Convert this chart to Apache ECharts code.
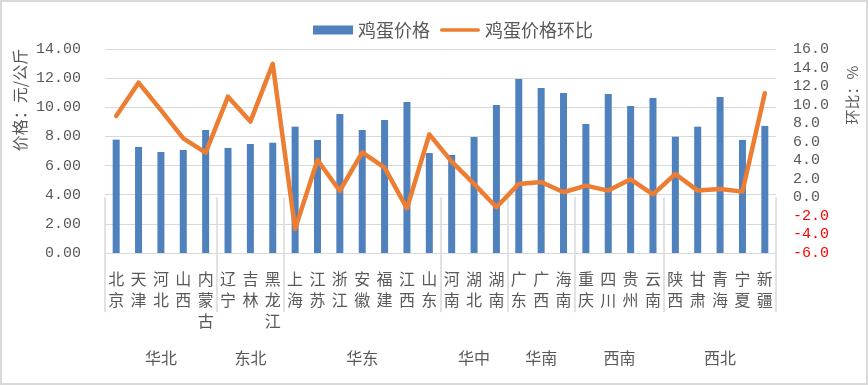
<!DOCTYPE html>
<html>
<head>
<meta charset="utf-8">
<script src="https://cdn.jsdelivr.net/npm/echarts@6/dist/echarts.min.js"></script>
<style>
html,body{margin:0;padding:0;background:#fff;}
#chart{width:868px;height:385px;}
</style>
</head>
<body>
<div id="chart"></div>
<script>
var provinces = ['北京','天津','河北','山西','内蒙古','辽宁','吉林','黑龙江','上海','江苏','浙江','安徽','福建','江西','山东','河南','湖北','湖南','广东','广西','海南','重庆','四川','贵州','云南','陕西','甘肃','青海','宁夏','新疆'];
var regionNames = ['华北','东北','华东','华中','华南','西南','西北'];
var regionSizes = [5,3,7,3,3,4,5];
var prices = [7.78,7.28,6.93,7.07,8.44,7.21,7.48,7.57,8.67,7.76,9.54,8.44,9.13,10.36,6.86,6.73,7.96,10.16,11.94,11.32,10.98,8.85,10.91,10.09,10.64,7.98,8.67,10.70,7.76,8.72];
var momChange = [8.78,12.37,9.40,6.37,4.82,10.86,8.17,14.39,-3.40,4.03,0.69,4.86,3.20,-1.18,6.80,3.85,1.45,-1.07,1.45,1.66,0.55,1.27,0.73,1.95,0.33,2.52,0.73,0.90,0.62,11.23];
var leftTicks = {min:0, max:14, step:2};
var rightTicks = {min:-6, max:16, step:2};
var seriesNames = ['鸡蛋价格','鸡蛋价格环比'];
var leftName = '价格：元/公斤';
var rightName = '环比：%';

// build group axis (half-unit positions, boundaryGap false)
var nHalf = provinces.length * 2 + 1;
var groupData = [], groupLabel = {}, groupTicks = {};
for (var i = 0; i < nHalf; i++) groupData.push('g' + i);
var s = 0;
groupTicks[0] = true;
for (var g = 0; g < regionNames.length; g++) {
  var e = s + regionSizes[g];
  groupLabel[s + e] = regionNames[g];
  groupTicks[2 * e] = true;
  s = e;
}

var txtColor = '#595959';
var numFont = 'Liberation Mono';
var cjkFont = 'Noto Sans CJK SC';
var chart = echarts.init(document.getElementById('chart'));
chart.setOption({
  animation: false,
  backgroundColor: '#fff',
  textStyle: {fontFamily: cjkFont},
  grid: {left: 105, right: 92, top: 49, bottom: 132, containLabel: false},
  legend: {
    left: 308, top: 16,
    itemWidth: 40, itemHeight: 9, itemGap: 10,
    symbolKeepAspect: true,
    textStyle: {fontSize: 18, color: txtColor, fontFamily: cjkFont},
    data: [
      {name: seriesNames[0], icon: 'rect'},
      {name: seriesNames[1], icon: 'path://M2,0H42A2,2 0 0 1 42,4H2A2,2 0 0 1 2,0Z'}
    ]
  },
  xAxis: [{
    type: 'category',
    data: provinces,
    axisLine: {lineStyle: {color: '#d9d9d9', width: 1}},
    axisTick: {show: false},
    axisLabel: {
      interval: 0, margin: 15, fontSize: 16, lineHeight: 21, color: txtColor,
      fontFamily: cjkFont, verticalAlign: 'top',
      formatter: function (v) { return v.split('').join('\n'); }
    }
  }, {
    type: 'category',
    data: groupData,
    boundaryGap: false,
    position: 'bottom',
    axisLine: {show: false},
    axisTick: {
      show: true, length: 115,
      interval: function (idx) { return !!groupTicks[idx]; },
      lineStyle: {color: '#d9d9d9', width: 1.5}
    },
    axisLabel: {
      interval: 0, margin: 95, fontSize: 16, lineHeight: 20, color: txtColor,
      fontFamily: cjkFont, verticalAlign: 'top',
      formatter: function (v, idx) { return groupLabel[idx] || ''; }
    }
  }],
  yAxis: [{
    type: 'value', position: 'left',
    min: leftTicks.min, max: leftTicks.max, interval: leftTicks.step,
    axisLine: {show: false}, axisTick: {show: false},
    splitLine: {lineStyle: {color: '#d9d9d9', width: 1}},
    axisLabel: {
      margin: 24, fontSize: 15, color: txtColor, fontFamily: numFont,
      formatter: function (v) { return v.toFixed(2); }
    }
  }, {
    type: 'value', position: 'right',
    min: rightTicks.min, max: rightTicks.max, interval: rightTicks.step,
    axisLine: {show: false}, axisTick: {show: false},
    splitLine: {show: false},
    axisLabel: {
      margin: 17, fontSize: 15, fontFamily: numFont,
      color: function (v) { return Number(v) < 0 ? '#ff0000' : txtColor; },
      formatter: function (v) { return v.toFixed(1); }
    }
  }],
  series: [{
    name: seriesNames[0], type: 'bar', xAxisIndex: 0, yAxisIndex: 0,
    data: prices, barWidth: 7,
    itemStyle: {color: '#4f81bd'}
  }, {
    name: seriesNames[1], type: 'line', xAxisIndex: 0, yAxisIndex: 1,
    data: momChange, symbol: 'none', showSymbol: false,
    lineStyle: {color: '#ed7d31', width: 4.5, cap: 'round', join: 'round'},
    itemStyle: {color: '#ed7d31'}
  }],
  graphic: [{
    type: 'rect', silent: true,
    shape: {x: 1, y: 1, width: 866, height: 383},
    style: {fill: 'none', stroke: '#d9d9d9', lineWidth: 2}
  }, {
    type: 'text', x: 20, y: 100, rotation: Math.PI / 2,
    style: {text: leftName, fill: txtColor, font: '16px "Noto Sans CJK SC"', align: 'center', verticalAlign: 'middle'}
  }, {
    type: 'text', x: 852, y: 95, rotation: Math.PI / 2,
    style: {text: rightName, fill: txtColor, font: '15px "Noto Sans CJK SC"', align: 'center', verticalAlign: 'middle'}
  }]
});
</script>
</body>
</html>
